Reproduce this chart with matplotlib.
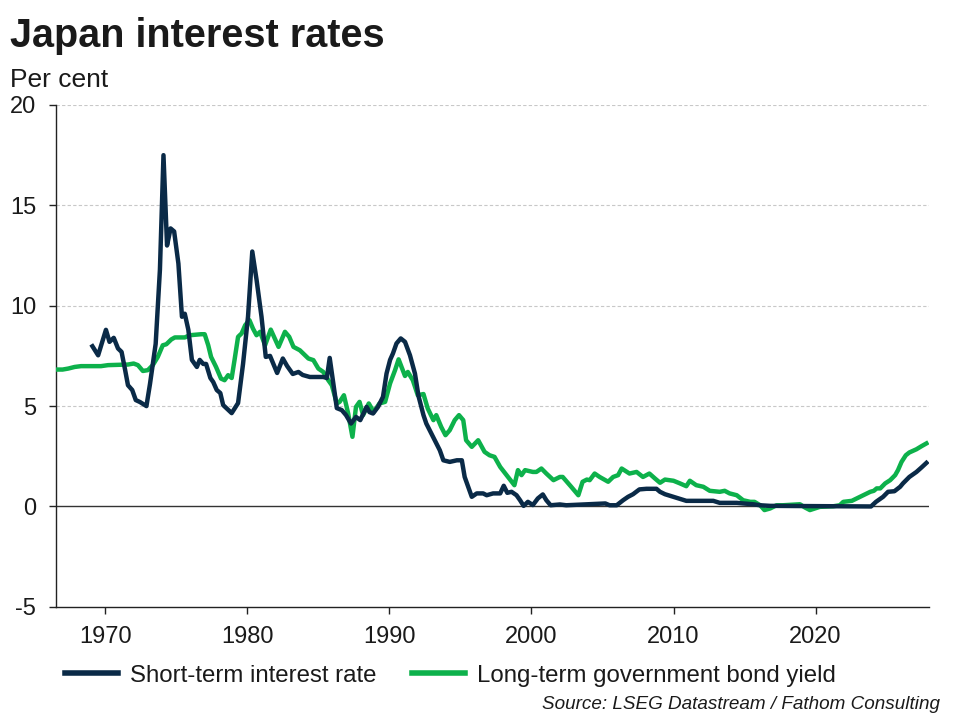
import matplotlib
matplotlib.use("Agg")
import matplotlib.pyplot as plt
from matplotlib.lines import Line2D

plt.rcParams['font.family'] = ['Liberation Sans', 'DejaVu Sans']

# ---------------- data ----------------
short_years = [1969.1, 1969.5, 1970.05, 1970.3, 1970.6, 1970.9, 1971.15, 1971.4, 1971.6, 1971.9,
               1972.15, 1972.45, 1972.9, 1973.15, 1973.55, 1973.85, 1974.1, 1974.35, 1974.6, 1974.85,
               1975.15, 1975.4, 1975.6, 1975.85, 1976.1, 1976.45, 1976.65, 1976.9, 1977.1, 1977.4,
               1977.6, 1977.85, 1978.1, 1978.3, 1978.9, 1979.35, 1979.7, 1980.05, 1980.35, 1980.65,
               1981.0, 1981.3, 1981.6, 1982.1, 1982.5, 1982.8, 1983.2, 1983.6, 1983.9, 1984.4,
               1985.35, 1985.6, 1985.8, 1986.3, 1986.65, 1986.95, 1987.3, 1987.65, 1987.95, 1988.4,
               1988.6, 1988.85, 1989.2, 1989.55, 1989.8, 1990.05, 1990.25, 1990.5, 1990.8, 1991.1,
               1991.45, 1991.8, 1992.05, 1992.4, 1992.6, 1992.95, 1993.3, 1993.55, 1993.8, 1994.25,
               1994.75, 1995.1, 1995.3, 1995.55, 1995.8, 1996.15, 1996.6, 1996.85, 1997.3, 1997.8,
               1998.05, 1998.3, 1998.6, 1998.95, 1999.2, 1999.45, 1999.75, 2000.1, 2000.45, 2000.8,
               2001.05, 2001.35, 2002.0, 2002.45, 2005.2, 2005.5, 2006.0, 2006.45, 2006.8, 2007.15,
               2007.6, 2008.1, 2008.8, 2009.05, 2009.4, 2010.0, 2010.45, 2010.9, 2012.8, 2013.25,
               2014.45, 2014.9, 2015.6, 2016.1, 2016.8, 2023.9, 2024.25, 2024.75, 2025.1, 2025.55,
               2025.95, 2026.15, 2026.6, 2027.1, 2027.45, 2027.8]
short_rate = [7.98, 7.53, 8.8, 8.2, 8.4, 7.87, 7.7, 6.8, 6.04, 5.8,
              5.3, 5.2, 5.0, 6.1, 8.1, 11.8, 17.5, 13.0, 13.85, 13.7,
              12.1, 9.45, 9.6, 8.8, 7.3, 6.95, 7.3, 7.1, 7.1, 6.4,
              6.2, 5.8, 5.65, 5.05, 4.65, 5.15, 7.1, 9.45, 12.7, 11.3,
              9.45, 7.45, 7.5, 6.65, 7.37, 7.0, 6.6, 6.7, 6.55, 6.45,
              6.45, 6.4, 7.4, 4.9, 4.8, 4.55, 4.13, 4.46, 4.3, 4.96,
              4.7, 4.63, 4.96, 5.46, 6.62, 7.3, 7.62, 8.12, 8.37, 8.2,
              7.53, 6.62, 5.5, 4.55, 4.13, 3.64, 3.14, 2.8, 2.3, 2.22,
              2.3, 2.3, 1.47, 0.98, 0.48, 0.65, 0.65, 0.56, 0.65, 0.65,
              1.03, 0.68, 0.73, 0.56, 0.31, 0.03, 0.23, 0.07, 0.4, 0.6,
              0.31, 0.06, 0.1, 0.06, 0.15, 0.06, 0.06, 0.31, 0.48, 0.61,
              0.85, 0.88, 0.88, 0.73, 0.61, 0.48, 0.38, 0.28, 0.28, 0.18,
              0.18, 0.15, 0.11, 0.06, 0.03, 0.0, 0.23, 0.48, 0.73, 0.76,
              0.98, 1.15, 1.47, 1.72, 1.94, 2.17]

long_years = [1966.6, 1967.0, 1967.4, 1967.85, 1968.3, 1969.7, 1970.2, 1971.6, 1972.0, 1972.3,
              1972.65, 1973.0, 1973.35, 1973.7, 1974.05, 1974.3, 1974.65, 1974.9, 1975.6, 1975.95,
              1976.75, 1977.0, 1977.25, 1977.45, 1977.8, 1978.15, 1978.4, 1978.65, 1978.9, 1979.1,
              1979.35, 1979.6, 1979.85, 1980.15, 1980.4, 1980.65, 1980.9, 1981.25, 1981.65, 1982.2,
              1982.65, 1982.95, 1983.25, 1983.7, 1984.3, 1984.65, 1985.0, 1985.35, 1985.7, 1985.95,
              1986.3, 1986.5, 1986.8, 1987.1, 1987.4, 1987.65, 1987.9, 1988.15, 1988.55, 1988.9,
              1989.3, 1989.7, 1990.05, 1990.4, 1990.65, 1991.1, 1991.3, 1991.65, 1992.0, 1992.4,
              1992.7, 1993.1, 1993.3, 1993.65, 1993.95, 1994.25, 1994.6, 1994.9, 1995.2, 1995.4,
              1995.8, 1996.25, 1996.7, 1997.05, 1997.4, 1997.8, 1998.25, 1998.8, 1999.05, 1999.3,
              1999.55, 2000.1, 2000.35, 2000.7, 2001.05, 2001.55, 2002.0, 2002.2, 2002.8, 2003.3,
              2003.6, 2003.9, 2004.1, 2004.45, 2004.8, 2005.4, 2005.75, 2006.1, 2006.35, 2006.9,
              2007.4, 2007.85, 2008.3, 2008.7, 2009.05, 2009.4, 2010.0, 2010.45, 2010.9, 2011.15,
              2011.6, 2012.1, 2012.55, 2013.25, 2013.6, 2013.95, 2014.45, 2014.9, 2015.4, 2015.7,
              2016.1, 2016.4, 2016.8, 2017.25, 2017.7, 2018.9, 2019.25, 2019.6, 2019.95, 2020.3,
              2021.25, 2021.7, 2021.95, 2022.55, 2022.9, 2023.35, 2023.85, 2024.1, 2024.3, 2024.55,
              2024.9, 2025.25, 2025.6, 2025.8, 2026.05, 2026.35, 2026.6, 2027.1, 2027.45, 2027.8]
long_yield = [6.82, 6.82, 6.87, 6.95, 6.99, 6.99, 7.04, 7.07, 7.12, 7.04,
              6.75, 6.79, 7.04, 7.45, 8.03, 8.08, 8.32, 8.42, 8.42, 8.53,
              8.58, 8.58, 8.03, 7.45, 6.95, 6.37, 6.29, 6.54, 6.4, 7.29,
              8.45, 8.62, 9.03, 9.28, 8.86, 8.53, 8.7, 8.03, 8.81, 7.95,
              8.7, 8.45, 7.95, 7.78, 7.37, 7.29, 6.87, 6.7, 6.29, 6.04,
              5.13, 5.21, 5.54, 4.63, 3.47, 4.96, 5.21, 4.55, 5.13, 4.71,
              5.13, 5.21, 6.13, 6.79, 7.33, 6.5, 6.7, 6.29, 5.54, 5.6,
              4.88, 4.3, 4.55, 3.96, 3.55, 3.8, 4.3, 4.55, 4.3, 3.3,
              2.97, 3.3, 2.72, 2.55, 2.47, 1.97, 1.56, 1.06, 1.81, 1.56,
              1.81, 1.72, 1.72, 1.89, 1.64, 1.31, 1.47, 1.47, 0.98, 0.56,
              1.23, 1.34, 1.31, 1.64, 1.47, 1.23, 1.47, 1.56, 1.89, 1.64,
              1.72, 1.47, 1.64, 1.39, 1.18, 1.34, 1.28, 1.15, 1.01, 1.28,
              1.06, 0.98, 0.78, 0.73, 0.78, 0.65, 0.56, 0.31, 0.23, 0.23,
              0.06, -0.18, -0.1, 0.06, 0.06, 0.11, -0.05, -0.18, -0.1, -0.02,
              0.01, 0.06, 0.23, 0.28, 0.4, 0.56, 0.73, 0.78, 0.9, 0.9,
              1.15, 1.31, 1.56, 1.81, 2.22, 2.55, 2.69, 2.85, 3.0, 3.14]

x_ticks = [1970, 1980, 1990, 2000, 2010, 2020]
y_ticks = [-5, 0, 5, 10, 15, 20]
series_names = ["Short-term interest rate", "Long-term government bond yield"]

# ---------------- style ----------------
NAVY = "#0a2a47"
GREEN = "#0db14b"
TEXT = "#1a1a1a"

fig = plt.figure(figsize=(9.57, 7.19), dpi=100)
ax = fig.add_axes([0.058, 0.156, 0.913, 0.698])

ax.plot(long_years, long_yield, color=GREEN, lw=3.2, solid_joinstyle='round', zorder=3)
ax.plot(short_years, short_rate, color=NAVY, lw=3.2, solid_joinstyle='round', zorder=4)

ax.set_xlim(1966.5, 2028.0)
ax.set_ylim(-5, 20)
ax.set_xticks(x_ticks)
ax.set_yticks(y_ticks)
ax.set_yticklabels([str(v) for v in y_ticks])

for v in [5, 10, 15, 20]:
    ax.axhline(v, color="#c8c8c8", lw=0.8, ls=(0, (3, 2)), zorder=1)
ax.axhline(0, color="#333333", lw=1.0, zorder=2)

for s in ['top', 'right']:
    ax.spines[s].set_visible(False)
for s in ['left', 'bottom']:
    ax.spines[s].set_color("#222222")
    ax.spines[s].set_linewidth(1.0)

ax.tick_params(axis='both', colors="#222222", labelcolor=TEXT, labelsize=17,
               length=5, width=1.0, direction='out')
ax.tick_params(axis='y', pad=9)
ax.tick_params(axis='x', pad=9)

fig.text(0.010, 0.934, "Japan interest rates", fontsize=28.5, fontweight='bold',
         color=TEXT, ha='left', va='baseline')
fig.text(0.010, 0.879, "Per cent", fontsize=19, color=TEXT, ha='left', va='baseline')

handles = [Line2D([0], [0], color=NAVY, lw=4),
           Line2D([0], [0], color=GREEN, lw=4)]
fig.legend(handles, series_names, loc='center left', bbox_to_anchor=(0.068, 0.06),
           ncol=2, frameon=False, fontsize=17.3, handlelength=2.2, handletextpad=0.5,
           columnspacing=1.5, labelcolor=TEXT, borderaxespad=0, borderpad=0)

fig.text(0.982, 0.008, "Source: LSEG Datastream / Fathom Consulting", fontsize=13.6,
         style='italic', color=TEXT, ha='right', va='bottom')

fig.savefig("out.png", dpi=100)
